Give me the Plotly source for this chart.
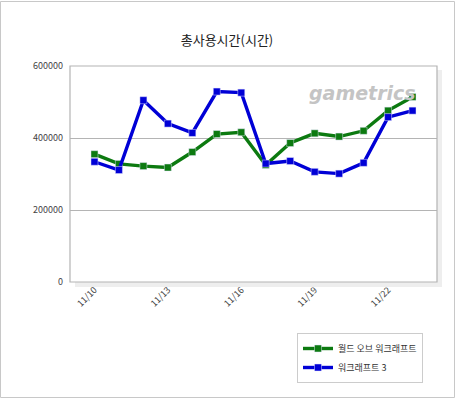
import plotly.graph_objects as go

dates = ["11/10", "11/11", "11/12", "11/13", "11/14", "11/15", "11/16",
         "11/17", "11/18", "11/19", "11/20", "11/21", "11/22", "11/23"]
wow = [355000, 328000, 322000, 318000, 361000, 411000, 416000,
       325000, 386000, 413000, 404000, 420000, 476000, 514000]
wc3 = [334000, 311000, 505000, 440000, 414000, 529000, 526000,
       329000, 336000, 306000, 301000, 331000, 458000, 476000]
tick_labels = ["11/10", "11/13", "11/16", "11/19", "11/22"]
names = ["월드 오브 워크래프트", "워크래프트 3"]
title = "총사용시간(시간)"

W, H = 456, 399
L, R, T, B = 70, 437, 66, 282
pw, ph = R - L, B - T

def px(x):
    return (x - L) / pw

def py(y):
    return (B - y) / ph

FONT = "Noto Sans CJK KR, Noto Sans, sans-serif"

fig = go.Figure()
for vals, name, col in [(wow, names[0], "#0c7a10"), (wc3, names[1], "#0000d6")]:
    fig.add_trace(go.Scatter(
        x=dates, y=vals, name=name, mode="lines+markers",
        line=dict(color=col, width=3.4),
        marker=dict(symbol="square", size=7, color=col,
                    line=dict(color="rgba(230,230,255,0.8)", width=0.6)),
    ))

# outer frame
fig.add_shape(type="rect", xref="paper", yref="paper",
              x0=px(0.5), x1=px(454.5), y0=py(397.5), y1=py(1.5),
              line=dict(color="#c8c8c8", width=1), fillcolor="rgba(0,0,0,0)", layer="below")
# plot shadow
fig.add_shape(type="rect", xref="paper", yref="paper",
              x0=px(437), x1=px(442), y0=py(287), y1=py(70),
              line=dict(width=0), fillcolor="#eeeeee", layer="below")
fig.add_shape(type="rect", xref="paper", yref="paper",
              x0=px(75), x1=px(442), y0=py(287), y1=py(282),
              line=dict(width=0), fillcolor="#eeeeee", layer="below")
# plot border
fig.add_shape(type="rect", xref="paper", yref="paper",
              x0=0, x1=1, y0=0, y1=1,
              line=dict(color="#b4b4b4", width=1.2), fillcolor="rgba(0,0,0,0)")

# watermark
fig.add_annotation(text="gametrics", xref="paper", yref="paper",
                   x=px(362), y=py(93), xanchor="center", yanchor="middle", showarrow=False,
                   font=dict(family="DejaVu Sans, sans-serif", size=19, color="#c4c4c4",
                             weight="bold", style="italic"))

fig.update_layout(
    width=W, height=H,
    margin=dict(l=L, r=W - R, t=T, b=H - B),
    paper_bgcolor="white", plot_bgcolor="white",
    title=dict(text=title, xref="container", x=227 / W, xanchor="center",
               yref="container", y=1 - 40 / H, yanchor="middle",
               font=dict(family=FONT, size=13, color="#222")),
    font=dict(family=FONT, size=9, color="#444"),
    xaxis=dict(
        type="category", categoryorder="array", categoryarray=dates,
        range=[-1, len(dates)], tickmode="array", tickvals=tick_labels,
        ticktext=tick_labels, tickangle=-45, showgrid=False, zeroline=False,
        showline=False, ticks="", tickfont=dict(size=9, color="#444"),
    ),
    yaxis=dict(
        range=[0, 600000], dtick=200000, tickformat="d",
        gridcolor="#b4b4b4", gridwidth=1, zeroline=False, showline=False,
        ticks="", ticklabelstandoff=6, tickfont=dict(size=9, color="#444"),
    ),
    showlegend=True,
    legend=dict(
        x=px(297), y=py(333), xanchor="left", yanchor="top",
        bordercolor="#cccccc", borderwidth=1, bgcolor="white",
        font=dict(size=9, color="#333"), itemwidth=30,
        tracegroupgap=0,
    ),
)

fig.write_html("out.html", config={"displayModeBar": False},
               post_script="document.body.style.margin='0';document.body.style.overflow='hidden';")
